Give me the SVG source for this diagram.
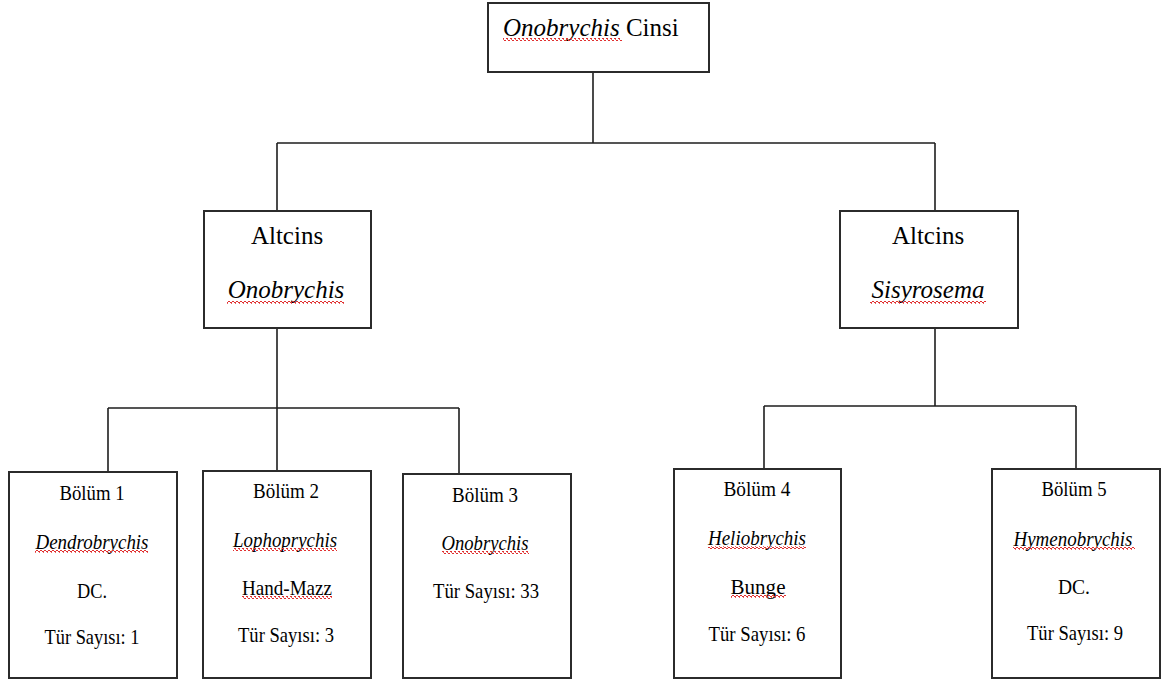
<svg xmlns="http://www.w3.org/2000/svg" width="1162" height="681" viewBox="0 0 1162 681" font-family="'Liberation Serif', 'DejaVu Serif', serif">
<style>
.box{fill:#fff;stroke:#2b2b2b;stroke-width:2}
.ln{fill:none;stroke:#1e1e1e;stroke-width:1.6}
text{font-family:'Liberation Serif','DejaVu Serif',serif;fill:#000;text-anchor:middle}
.big{font-size:25px}
.sm{font-size:21px}
.it{font-style:italic}
.sq{fill:url(#wave)}
</style>
<defs>
<pattern id="wave" width="4" height="3" patternUnits="userSpaceOnUse">
<path d="M0,2 L1,1 L3,3 L4,2" fill="none" stroke="#e03030" stroke-width="1"/>
<path d="M-1,1 L1,-1 M3,-1 L4,1" fill="none" stroke="#e03030" stroke-width="1"/>
</pattern>
</defs>
<rect width="1162" height="681" fill="#fff"/>
<g id="connectors">
<path class="ln" d="M593,72 V143 M277,143 H935 M277,143 V211 M935,143 V211"/>
<path class="ln" d="M277,328 V408 M108,408 H459 M108,408 V472 M277,408 V471 M459,408 V474"/>
<path class="ln" d="M935,328 V406 M764,406 H1076 M764,406 V469 M1076,406 V469"/>
</g>
<g id="root">
<rect class="box" x="488" y="3" width="221" height="69"/>
<text class="big" x="503" y="36" text-anchor="start" style="text-anchor:start"><tspan class="it">Onobrychis</tspan> Cinsi</text>
<rect class="sq" x="503" y="38" width="119" height="3"/>
</g>
<g id="altcins-onobrychis">
<rect class="box" x="204" y="211" width="167" height="117"/>
<text class="big" x="287" y="244">Altcins</text>
<text class="big it" x="286" y="298">Onobrychis</text>
<rect class="sq" x="227" y="301" width="117" height="3"/>
</g>
<g id="altcins-sisyrosema">
<rect class="box" x="840" y="211" width="178" height="117"/>
<text class="big" x="928" y="244">Altcins</text>
<text class="big it" x="928" y="298">Sisyrosema</text>
<rect class="sq" x="870" y="301" width="116" height="3"/>
</g>
<g id="bolum1">
<rect class="box" x="9" y="472" width="168" height="206"/>
<text class="sm" x="92" y="500" textLength="65" lengthAdjust="spacingAndGlyphs">Bölüm 1</text>
<text class="sm it" x="92" y="549" textLength="113" lengthAdjust="spacingAndGlyphs">Dendrobrychis</text>
<rect class="sq" x="35" y="550" width="113" height="3"/>
<text class="sm" x="92" y="598" textLength="30" lengthAdjust="spacingAndGlyphs">DC.</text>
<text class="sm" x="92" y="644" textLength="95" lengthAdjust="spacingAndGlyphs">Tür Sayısı: 1</text>
</g>
<g id="bolum2">
<rect class="box" x="203" y="471" width="168" height="207"/>
<text class="sm" x="286" y="498" textLength="66" lengthAdjust="spacingAndGlyphs">Bölüm 2</text>
<text class="sm it" x="285" y="547" textLength="104" lengthAdjust="spacingAndGlyphs">Lophoprychis</text>
<rect class="sq" x="233" y="548" width="104" height="3"/>
<text class="sm" x="287" y="595" textLength="90" lengthAdjust="spacingAndGlyphs">Hand-Mazz</text>
<rect class="sq" x="242" y="596" width="90" height="3"/>
<text class="sm" x="286" y="642" textLength="96" lengthAdjust="spacingAndGlyphs">Tür Sayısı: 3</text>
</g>
<g id="bolum3">
<rect class="box" x="403" y="474" width="168" height="204"/>
<text class="sm" x="485" y="502" textLength="66" lengthAdjust="spacingAndGlyphs">Bölüm 3</text>
<text class="sm it" x="485" y="550" textLength="87" lengthAdjust="spacingAndGlyphs">Onobrychis</text>
<rect class="sq" x="442" y="551" width="87" height="3"/>
<text class="sm" x="486" y="598" textLength="106" lengthAdjust="spacingAndGlyphs">Tür Sayısı: 33</text>
</g>
<g id="bolum4">
<rect class="box" x="674" y="469" width="167" height="209"/>
<text class="sm" x="757" y="496" textLength="67" lengthAdjust="spacingAndGlyphs">Bölüm 4</text>
<text class="sm it" x="757" y="545" textLength="98" lengthAdjust="spacingAndGlyphs">Heliobrychis</text>
<rect class="sq" x="708" y="546" width="98" height="3"/>
<text class="sm" x="758" y="594" textLength="55" lengthAdjust="spacingAndGlyphs">Bunge</text>
<rect class="sq" x="731" y="595" width="55" height="3"/>
<text class="sm" x="757" y="641" textLength="97" lengthAdjust="spacingAndGlyphs">Tür Sayısı: 6</text>
</g>
<g id="bolum5">
<rect class="box" x="992" y="469" width="168" height="209"/>
<text class="sm" x="1074" y="496" textLength="65" lengthAdjust="spacingAndGlyphs">Bölüm 5</text>
<text class="sm it" x="1073" y="546" textLength="119" lengthAdjust="spacingAndGlyphs">Hymenobrychis</text>
<rect class="sq" x="1013" y="547" width="122" height="3"/>
<text class="sm" x="1074" y="594" textLength="32" lengthAdjust="spacingAndGlyphs">DC.</text>
<text class="sm" x="1075" y="640" textLength="96" lengthAdjust="spacingAndGlyphs">Tür Sayısı: 9</text>
</g>
</svg>
